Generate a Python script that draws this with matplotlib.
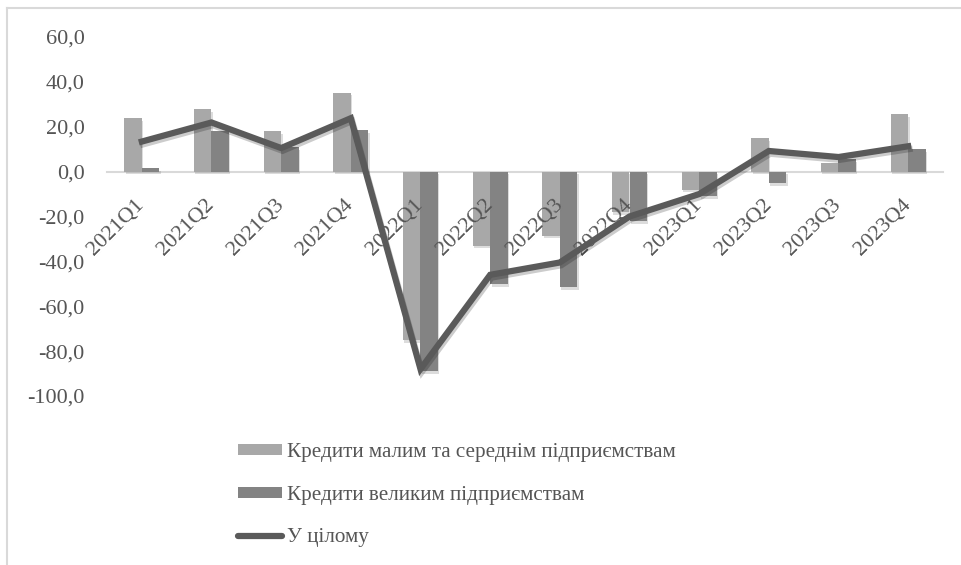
import numpy as np
import matplotlib
matplotlib.use("Agg")
import matplotlib.pyplot as plt
from matplotlib.patches import Patch
from matplotlib.lines import Line2D
from matplotlib import patheffects as pe

# Quarterly lending growth, %
quarters = ["2021Q1", "2021Q2", "2021Q3", "2021Q4",
            "2022Q1", "2022Q2", "2022Q3", "2022Q4",
            "2023Q1", "2023Q2", "2023Q3", "2023Q4"]
sme_loans = [23.8, 27.8, 17.9, 35.2, -75.0, -33.0, -28.5, -18.0, -8.0, 15.0, 4.0, 25.5]
large_loans = [1.5, 18.0, 11.0, 18.6, -89.0, -50.0, -51.5, -22.0, -11.0, -5.0, 5.5, 10.0]
total = [13.4, 21.9, 10.5, 23.8, -88.0, -46.0, -40.5, -20.0, -10.0, 9.2, 6.5, 11.3]

labels = ["Кредити малим та середнім підприємствам",
          "Кредити великим підприємствам",
          "У цілому"]

c_sme = "#a8a8a8"
c_large = "#838383"
c_total = "#5a5a5a"
c_text = "#555555"
c_grid = "#d9d9d9"

plt.rcParams["font.family"] = ["Liberation Serif", "DejaVu Serif"]
fs = 16

W, H = 962, 565
fig = plt.figure(figsize=(W / 100, H / 100), dpi=100)
ax = fig.add_axes([107 / W, 1 - 396 / H, (943 - 107) / W, (396 - 37) / H])

# category axis sits on the zero line
for s in ["top", "right", "left"]:
    ax.spines[s].set_visible(False)
ax.spines["bottom"].set_position(("data", 0))
ax.spines["bottom"].set_color(c_grid)
ax.spines["bottom"].set_linewidth(1.5)
ax.spines["bottom"].set_zorder(1)

x = np.arange(len(quarters))
bw = 0.25
shadow = [pe.withSimplePatchShadow(offset=(1, -2), shadow_rgbFace="#777777", alpha=0.25)]
ax.bar(x - bw / 2, sme_loans, width=bw, color=c_sme, zorder=2, path_effects=shadow)
ax.bar(x + bw / 2, large_loans, width=bw, color=c_large, zorder=2, path_effects=shadow)
ax.plot(x, total, color=c_total, lw=4.5, solid_joinstyle="miter", zorder=4,
        path_effects=[pe.SimpleLineShadow(offset=(1, -2), alpha=0.2), pe.Normal()])

ax.set_xlim(-0.5, len(quarters) - 0.5)
ax.set_ylim(-100, 60)
yt = np.arange(-100, 61, 20)
ax.set_yticks(yt)
ax.set_yticklabels([f"{v:.1f}".replace(".", ",") for v in yt])
ax.set_xticks(x)
ax.set_xticklabels(quarters)
for lab in ax.get_xticklabels():
    lab.set_rotation(45)
    lab.set_ha("right")
    lab.set_va("center")
    lab.set_rotation_mode("anchor")

ax.tick_params(axis="y", length=0, pad=16, labelsize=fs, labelcolor=c_text)
ax.tick_params(axis="x", length=0, pad=22, labelsize=fs, labelcolor=c_text)
ax.xaxis.set_zorder(3)  # category labels over the bars, under the line
ax.patch.set_visible(False)

# chart frame (top and left edges)
fig.add_artist(Line2D([7 / W, 1], [1 - 7.5 / H, 1 - 7.5 / H], color=c_grid, lw=1.5,
                      transform=fig.transFigure))
fig.add_artist(Line2D([7.5 / W, 7.5 / W], [0, 1 - 7.5 / H], color=c_grid, lw=1.5,
                      transform=fig.transFigure))

handles = [Patch(facecolor=c_sme, edgecolor="none"),
           Patch(facecolor=c_large, edgecolor="none"),
           Line2D([0], [0], color=c_total, lw=4.5, solid_capstyle="round")]
lfs = 15.2
leg = fig.legend(handles, labels, loc="upper left",
                 bbox_to_anchor=(238 / W, 1 - 443 / H),
                 frameon=False, fontsize=lfs, borderpad=0, borderaxespad=0,
                 handlelength=2.1, handleheight=0.42, handletextpad=0.2,
                 labelspacing=1.12)
for t in leg.get_texts():
    t.set_color(c_text)

fig.savefig("out.png", dpi=100, facecolor="white")
